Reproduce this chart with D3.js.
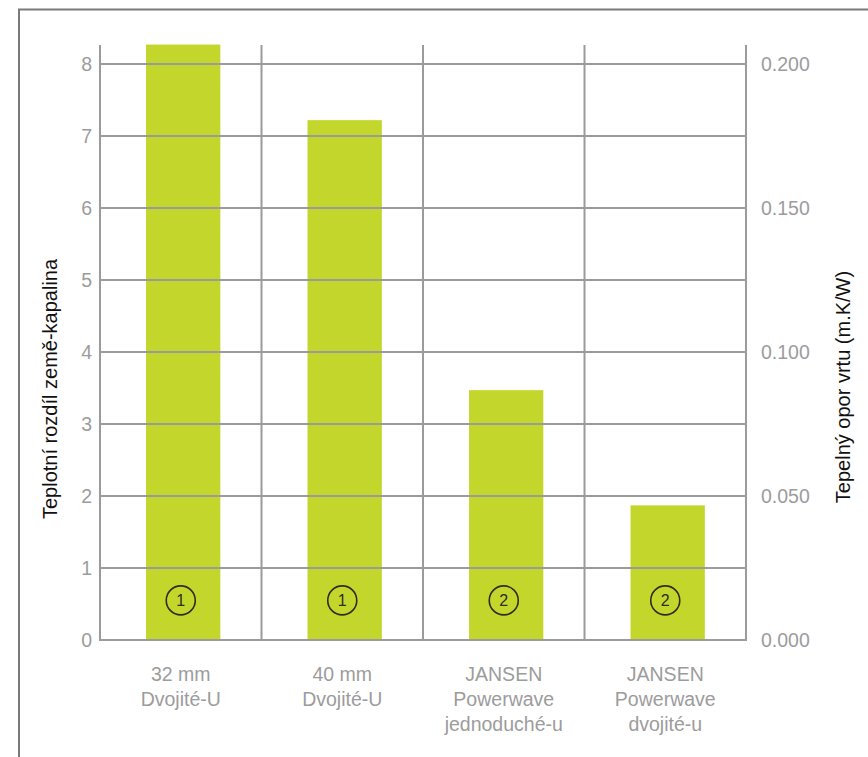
<!DOCTYPE html>
<html>
<head>
<meta charset="utf-8">
<script src="https://cdn.jsdelivr.net/npm/d3@7"></script>
<style>
  html, body { margin: 0; padding: 0; background: #fff; }
  svg { display: block; font-family: "Liberation Sans", Arial, sans-serif; }
</style>
</head>
<body>
<div id="chart"></div>
<script>
// chart data
const categories = [
  ['32 mm', 'Dvojité-U'],
  ['40 mm', 'Dvojité-U'],
  ['JANSEN', 'Powerwave', 'jednoduché-u'],
  ['JANSEN', 'Powerwave', 'dvojité-u']
];
const values = [8.27, 7.22, 3.47, 1.87];
const markers = ['1', '1', '2', '2'];
const leftTicks = [0, 1, 2, 3, 4, 5, 6, 7, 8];
const rightTicks = [0, 0.05, 0.1, 0.15, 0.2];
const leftTitle = 'Teplotní rozdíl země-kapalina';
const rightTitle = 'Tepelný opor vrtu (m.K/W)';

const width = 868, height = 757;
const margin = { top: 64, right: 122, bottom: 117, left: 100 };
const innerW = width - margin.left - margin.right;
const innerH = height - margin.top - margin.bottom;

const svg = d3.select('#chart')
  .append('svg')
  .attr('width', width)
  .attr('height', height);

// outer frame (only top and left edges are visible)
svg.append('path')
  .attr('d', `M19,${height} V9.5 H${width}`)
  .attr('fill', 'none')
  .attr('stroke', '#7a7a7a')
  .attr('stroke-width', 2);

const g = svg.append('g')
  .attr('transform', `translate(${margin.left},${margin.top})`);

const x = d3.scaleBand()
  .domain(d3.range(categories.length))
  .range([0, innerW])
  .paddingInner(0)
  .paddingOuter(0);

const y = d3.scaleLinear()
  .domain([0, 8])
  .range([innerH, 0]);

const y2 = d3.scaleLinear()
  .domain([0, 0.2])
  .range([innerH, 0]);

const gridColor = '#9b9b9b';
const labelColor = '#9c9c9c';
const labelSize = '19.5px';
const topExt = 19; // vertical lines reach above top tick

// bars
g.selectAll('.bar')
  .data(values)
  .enter()
  .append('rect')
  .attr('class', 'bar')
  .attr('x', (d, i) => x(i) + x.bandwidth() * 0.285)
  .attr('width', x.bandwidth() * 0.46)
  .attr('y', d => y(d))
  .attr('height', d => innerH - y(d))
  .attr('fill', '#c3d62b');

// horizontal grid
g.selectAll('.hgrid')
  .data(leftTicks)
  .enter()
  .append('line')
  .attr('x1', 0)
  .attr('x2', innerW)
  .attr('y1', d => y(d))
  .attr('y2', d => y(d))
  .attr('stroke', gridColor)
  .attr('stroke-width', 2);

// vertical grid (band boundaries)
const bounds = d3.range(categories.length + 1).map(i => i * x.step());
g.selectAll('.vgrid')
  .data(bounds)
  .enter()
  .append('line')
  .attr('x1', d => d)
  .attr('x2', d => d)
  .attr('y1', -topExt)
  .attr('y2', innerH + 1)
  .attr('stroke', gridColor)
  .attr('stroke-width', 2);

// left axis
const leftAxis = g.append('g')
  .call(d3.axisLeft(y).tickValues(leftTicks).tickFormat(d3.format('d')).tickSize(0).tickPadding(8));
leftAxis.select('.domain').remove();
leftAxis.selectAll('text')
  .attr('fill', labelColor)
  .style('font-size', labelSize);

// right axis
const rightAxis = g.append('g')
  .attr('transform', `translate(${innerW},0)`)
  .call(d3.axisRight(y2).tickValues(rightTicks).tickFormat(d3.format('.3f')).tickSize(0).tickPadding(15));
rightAxis.select('.domain').remove();
rightAxis.selectAll('text')
  .attr('fill', labelColor)
  .style('font-size', labelSize);

// category labels
const catLabels = g.selectAll('.cat')
  .data(categories)
  .enter()
  .append('text')
  .attr('class', 'cat')
  .attr('text-anchor', 'middle')
  .attr('fill', labelColor)
  .style('font-size', labelSize)
  .attr('transform', (d, i) => `translate(${x(i) + x.bandwidth() / 2},${innerH + 41})`);
catLabels.selectAll('tspan')
  .data(d => d)
  .enter()
  .append('tspan')
  .attr('x', 0)
  .attr('y', (d, i) => i * 25)
  .text(d => d);

// circled markers inside the bars
const mk = g.selectAll('.marker')
  .data(markers)
  .enter()
  .append('g')
  .attr('transform', (d, i) => `translate(${x(i) + x.bandwidth() / 2},${y(0.55)})`);
mk.append('circle')
  .attr('r', 14.5)
  .attr('fill', 'none')
  .attr('stroke', '#2e2e1c')
  .attr('stroke-width', 1.6);
mk.append('text')
  .attr('text-anchor', 'middle')
  .attr('dy', '0.35em')
  .attr('fill', '#2e2e1c')
  .style('font-size', '16px')
  .text(d => d);

// axis titles
svg.append('text')
  .attr('transform', `translate(57,389) rotate(-90)`)
  .attr('text-anchor', 'middle')
  .attr('fill', '#111')
  .style('font-size', '20px')
  .text(leftTitle);

svg.append('text')
  .attr('transform', `translate(850,387) rotate(-90)`)
  .attr('text-anchor', 'middle')
  .attr('fill', '#111')
  .style('font-size', '20px')
  .text(rightTitle);
</script>
</body>
</html>
